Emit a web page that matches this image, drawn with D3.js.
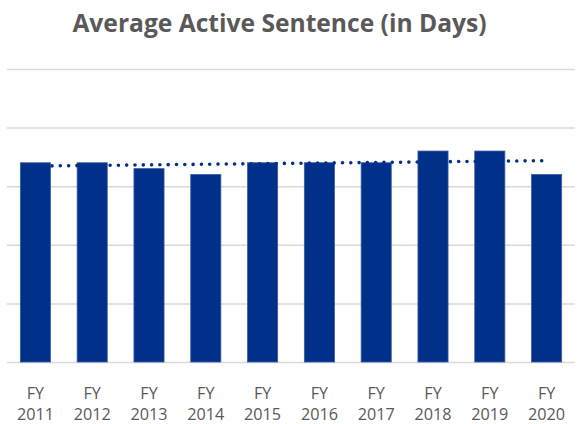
<!DOCTYPE html>
<html>
<head>
<meta charset="utf-8">
<script src="https://cdn.jsdelivr.net/npm/d3@7"></script>
<style>
  body { margin: 0; background: #fff; }
</style>
</head>
<body>
<div class="area"></div>
<script>
const width = 579
const height = 424
const barColor = "#00308a"
const textColor = "#595959"
const gridColor = "#d9d9d9"

// data (no y labels shown, grid step assumed 50)
const years = ["2011", "2012", "2013", "2014", "2015", "2016", "2017", "2018", "2019", "2020"]
const values = [170, 170, 165, 160, 170, 170, 170, 180, 180, 160]
const gridTicks = [0, 50, 100, 150, 200, 250]

const svg = d3.select(".area")
  .append("svg")
  .attr("width", width)
  .attr("height", height)
  .attr("viewBox", [0, 0, width, height])

const x = d3.scaleBand()
  .domain(years)
  .range([7, 575])
  .paddingInner(0.47)
  .paddingOuter(0.235)

const y = d3.scaleLinear()
  .domain([0, 250])
  .range([362, 69])

svg.append("text")
  .attr("x", 279.5)
  .attr("y", 32)
  .attr("text-anchor", "middle")
  .attr("font-family", "Open Sans")
  .attr("font-weight", "bold")
  .attr("font-size", 24.6)
  .attr("fill", textColor)
  .text("Average Active Sentence (in Days)")

// gridlines
const yAxis = svg.append("g")
  .attr("transform", "translate(7,0)")
  .call(d3.axisRight(y).tickValues(gridTicks).tickSize(568).tickFormat(""))
yAxis.select(".domain").remove()
yAxis.selectAll("line")
  .attr("stroke", gridColor)
  .attr("stroke-width", 1.5)

// trend line (least squares fit over the bars)
const idx = d3.range(values.length)
const mx = d3.mean(idx)
const my = d3.mean(values)
const slope = d3.sum(idx, i => (i - mx) * (values[i] - my)) / d3.sum(idx, i => (i - mx) ** 2)
const trend = idx.map(i => [years[i], my + slope * (i - mx)])

const line = d3.line()
  .x(d => x(d[0]) + x.bandwidth() / 2)
  .y(d => y(d[1]))

svg.append("g")
  .selectAll("rect")
  .data(years)
  .join("rect")
    .attr("x", d => x(d))
    .attr("y", (d, i) => y(values[i]))
    .attr("width", x.bandwidth())
    .attr("height", (d, i) => y(0) - y(values[i]))
    .attr("fill", barColor)
    .attr("stroke", "#3a5aa2")
    .attr("stroke-width", 0.8)

svg.append("path")
  .datum(trend)
  .attr("fill", "none")
  .attr("stroke", barColor)
  .attr("stroke-width", 3.6)
  .attr("stroke-linecap", "round")
  .attr("stroke-dasharray", "0 8.3")
  .attr("d", line)

// category labels
const xAxis = svg.append("g")
  .attr("transform", "translate(0,362)")
  .call(d3.axisBottom(x).tickSize(0).tickFormat(""))
xAxis.select(".domain").remove()

const labels = svg.append("g")
  .attr("font-family", "Open Sans")
  .attr("font-size", 16.2)
  .attr("fill", textColor)
  .attr("text-anchor", "middle")
  .selectAll("text")
  .data(years)
  .join("text")
    .attr("x", d => x(d) + x.bandwidth() / 2)
labels.append("tspan").attr("y", 398.5).text("FY")
labels.append("tspan")
  .attr("x", d => x(d) + x.bandwidth() / 2)
  .attr("y", 419.5)
  .text(d => d)
</script>
</body>
</html>
